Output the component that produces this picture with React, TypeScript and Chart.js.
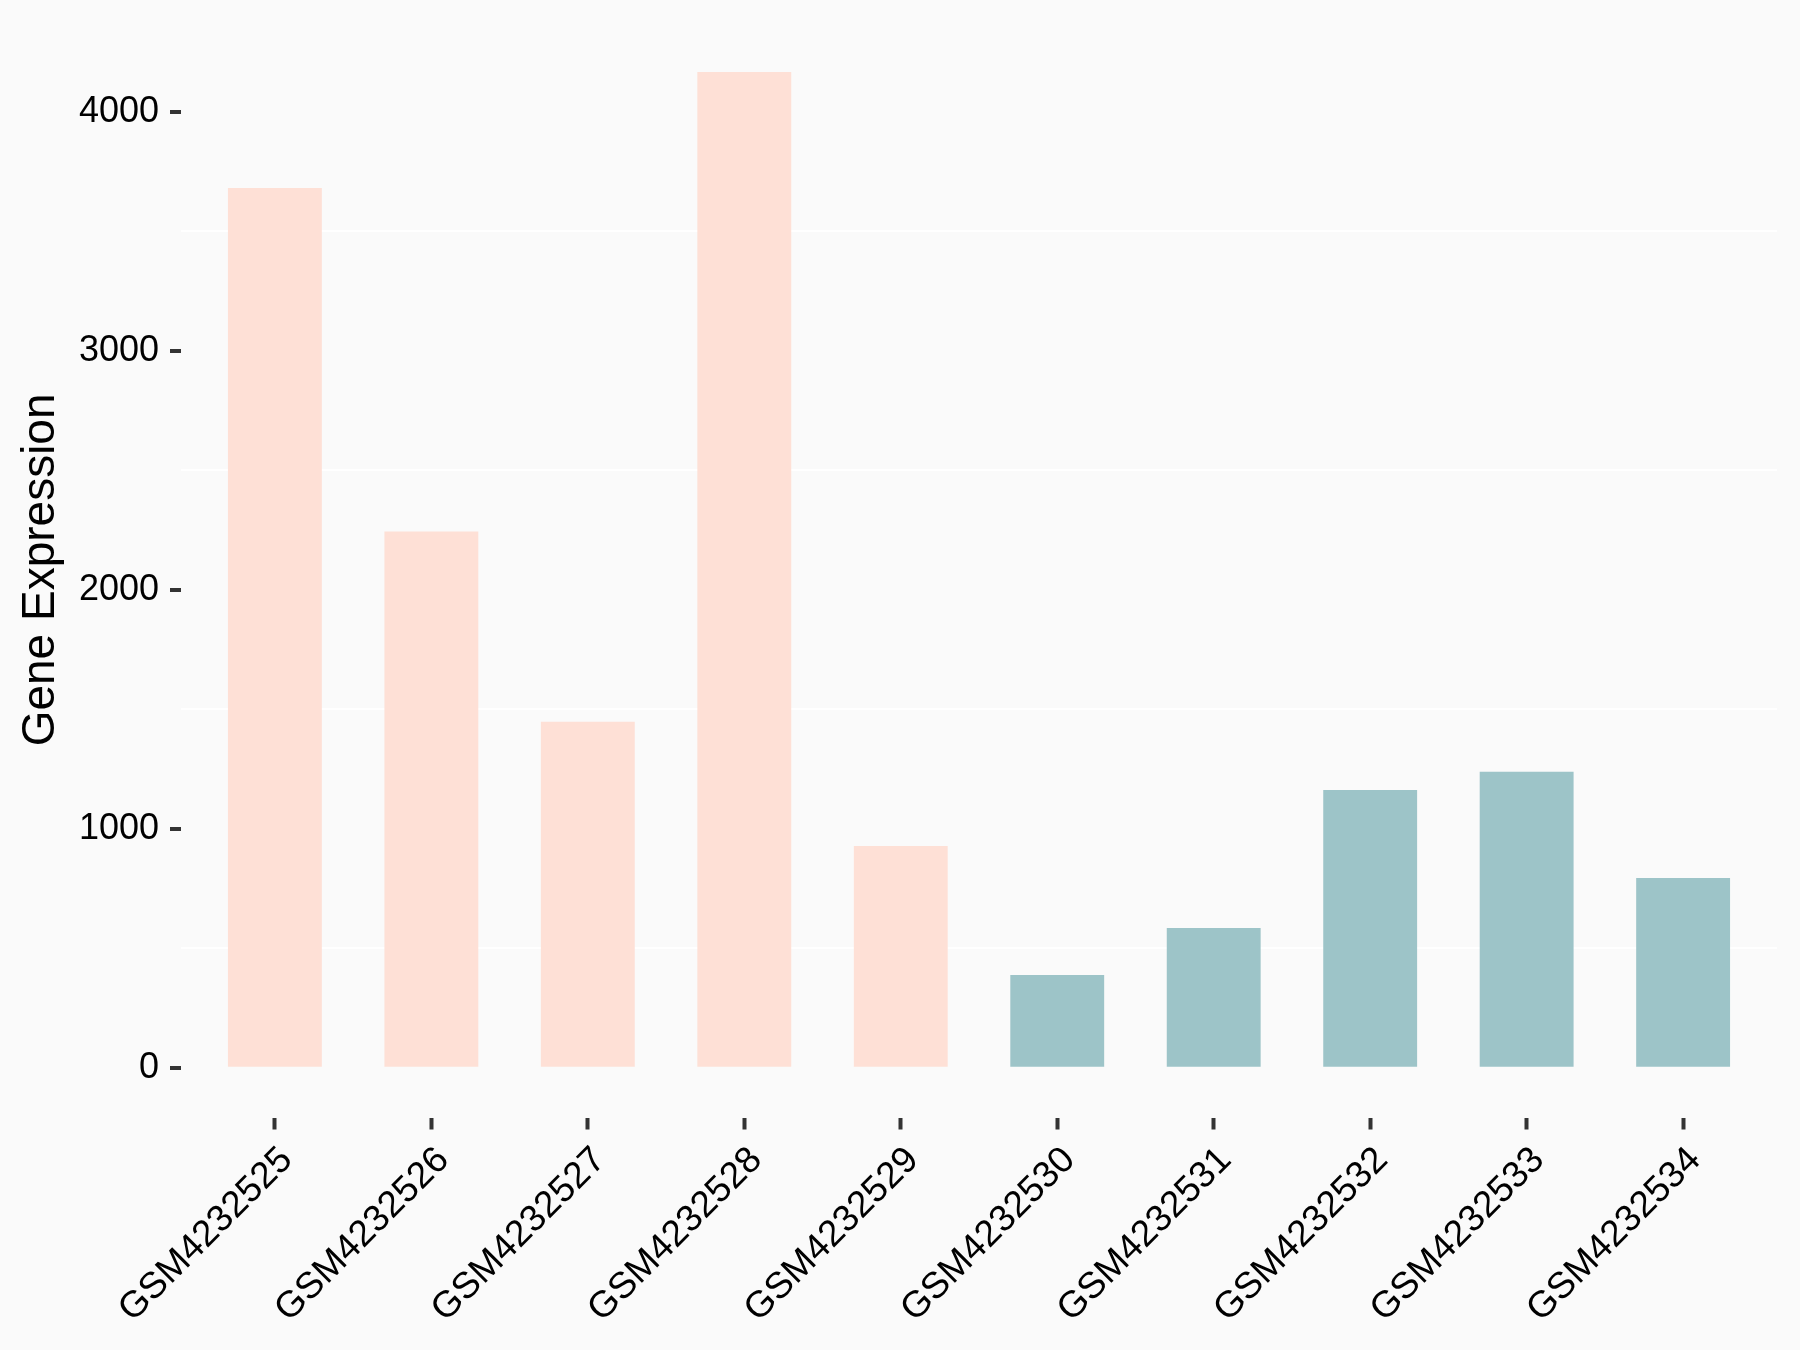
import React, { useEffect, useRef } from 'react';
import { Chart, registerables } from 'chart.js';

Chart.register(...registerables);

const samples = [
  'GSM4232525', 'GSM4232526', 'GSM4232527', 'GSM4232528', 'GSM4232529',
  'GSM4232530', 'GSM4232531', 'GSM4232532', 'GSM4232533', 'GSM4232534',
];
const expression = [3681, 2243, 1448, 4166, 928, 388, 585, 1162, 1238, 794];
const groups = ['A', 'A', 'A', 'A', 'A', 'B', 'B', 'B', 'B', 'B'];
const groupColors: Record<string, string> = { A: '#FEE0D6', B: '#9DC4C8' };
const yTickValues = [0, 500, 1000, 1500, 2000, 2500, 3000, 3500, 4000];
const yLabelStep = 1000;
const yTitle = 'Gene Expression';

const FONT = "'Liberation Sans', Arial, Helvetica, sans-serif";

const bgPlugin = {
  id: 'bgFill',
  beforeDraw(chart: any) {
    const { ctx, width, height } = chart;
    ctx.save();
    ctx.fillStyle = '#FAFAFA';
    ctx.fillRect(0, 0, width, height);
    ctx.restore();
  },
};

export default function App() {
  const ref = useRef<HTMLCanvasElement | null>(null);

  useEffect(() => {
    if (!ref.current) return;
    const chart = new Chart(ref.current, {
      type: 'bar',
      data: {
        datasets: [
          {
            data: expression.map((v, i) => ({ x: i, y: v })),
            backgroundColor: groups.map((g) => groupColors[g]),
            borderWidth: 0,
            barPercentage: 0.6,
            categoryPercentage: 1,
          },
        ],
      },
      options: {
        animation: false,
        responsive: false,
        devicePixelRatio: 1,
        layout: { padding: { top: 22.3, right: 23, bottom: 0, left: 0 } },
        plugins: { legend: { display: false }, tooltip: { enabled: false } },
        scales: {
          x: {
            type: 'linear',
            min: -0.6,
            max: samples.length - 1 + 0.6,
            offset: false,
            afterBuildTicks: (scale: any) => {
              scale.ticks = samples.map((_, i) => ({ value: i }));
            },
            afterFit: (scale: any) => {
              scale.height = 1350 - 1117.5;
              scale.paddingLeft = 0;
              scale.paddingRight = 0;
              scale.paddingTop = 0;
              scale.paddingBottom = 0;
            },
            ticks: {
              autoSkip: false,
              minRotation: 45,
              maxRotation: 45,
              padding: 9,
              labelOffset: 12,
              color: '#000000',
              font: { family: FONT, size: 37 },
              callback: (v: any) => samples[Math.round(Number(v))] ?? '',
            },
            grid: {
              display: true,
              offset: false,
              drawOnChartArea: false,
              drawTicks: true,
              color: 'transparent',
              tickColor: '#333333',
              tickWidth: 4,
              tickLength: 12,
            },
            border: { display: false },
          },
          y: {
            type: 'linear',
            min: -208.3,
            max: 4374,
            afterBuildTicks: (scale: any) => {
              scale.ticks = yTickValues.map((v) => ({ value: v }));
            },
            afterFit: (scale: any) => {
              scale.width = 181;
              scale.paddingLeft = 0;
              scale.paddingRight = 0;
              scale.paddingTop = 0;
              scale.paddingBottom = 0;
            },
            ticks: {
              padding: 11,
              color: '#000000',
              font: { family: FONT, size: 36 },
              callback: (v: any) => (Number(v) % yLabelStep === 0 ? String(v) : ''),
            },
            grid: {
              display: true,
              drawTicks: true,
              lineWidth: 2,
              color: (ctx: any) =>
                ctx.tick && ctx.tick.value % yLabelStep === 0 ? 'rgba(0,0,0,0)' : '#FFFFFF',
              tickColor: (ctx: any) =>
                ctx.tick && ctx.tick.value % yLabelStep === 0 ? '#333333' : 'rgba(0,0,0,0)',
              tickWidth: 4,
              tickLength: 11,
            },
            border: { display: false },
            title: {
              display: true,
              text: yTitle,
              color: '#000000',
              font: { family: FONT, size: 46 },
              padding: { top: 14, bottom: 0 },
            },
          },
        },
      },
      plugins: [bgPlugin],
    } as any);
    return () => chart.destroy();
  }, []);

  return (
    <div style={{ position: 'absolute', left: 0, top: 0, width: 1800, height: 1350, background: '#FAFAFA' }}>
      <canvas ref={ref} width={1800} height={1350} style={{ display: 'block' }} />
    </div>
  );
}
